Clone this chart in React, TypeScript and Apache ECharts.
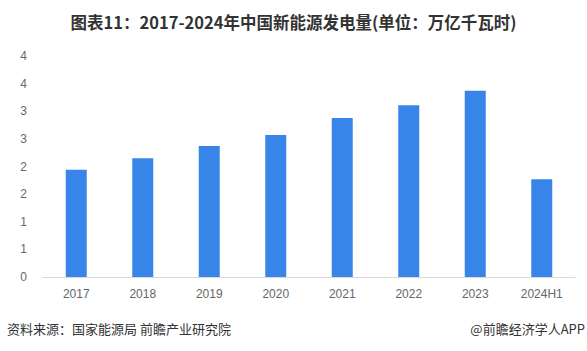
import React, { useEffect, useRef } from "react";
import * as echarts from "echarts";

const categories = ["2017", "2018", "2019", "2020", "2021", "2022", "2023", "2024H1"];
const generation = [1.94, 2.15, 2.37, 2.57, 2.88, 3.11, 3.37, 1.77];
const titleText = "图表11：2017-2024年中国新能源发电量(单位：万亿千瓦时)";
const sourceText = "资料来源：国家能源局 前瞻产业研究院";
const brandText = "@前瞻经济学人APP";

export default function App() {
  const ref = useRef<HTMLDivElement>(null);
  useEffect(() => {
    if (!ref.current) return;
    const chart = echarts.init(ref.current, null, { renderer: "svg" });
    const font = "'Noto Sans CJK SC', 'Liberation Sans', sans-serif";
    chart.setOption({
      animation: false,
      title: {
        text: titleText,
        left: "center",
        top: 9,
        textStyle: { fontSize: 16.5, fontWeight: "bold", color: "#333", fontFamily: font },
      },
      grid: { left: 43, right: 12, top: 56, bottom: 74, containLabel: false },
      xAxis: {
        type: "category",
        data: categories,
        axisLine: { lineStyle: { color: "#d9d9d9", width: 1 } },
        axisTick: { show: false },
        axisLabel: { color: "#666", fontSize: 12, margin: 11, fontFamily: "'Liberation Sans', sans-serif" },
      },
      yAxis: {
        type: "value",
        min: 0,
        max: 4,
        interval: 0.5,
        axisLine: { show: false },
        axisTick: { show: false },
        splitLine: { show: false },
        axisLabel: {
          color: "#666",
          fontSize: 12,
          margin: 16,
          fontFamily: "'Liberation Sans', sans-serif",
          formatter: (v: number) => String(Math.round(v)),
        },
      },
      series: [
        {
          type: "bar",
          data: generation,
          barWidth: 21,
          itemStyle: { color: "#3885E9" },
        },
      ],
      graphic: [
        {
          type: "text",
          left: 7,
          top: 322,
          style: { text: sourceText, fill: "#333", font: `13px ${font}` },
        },
        {
          type: "text",
          right: 2,
          top: 322,
          style: { text: brandText, fill: "#333", font: `13px ${font}` },
        },
      ],
    });
    return () => chart.dispose();
  }, []);
  return (
    <div
      ref={ref}
      style={{ position: "fixed", left: 0, top: 0, width: 587, height: 351, background: "#fff" }}
    />
  );
}
